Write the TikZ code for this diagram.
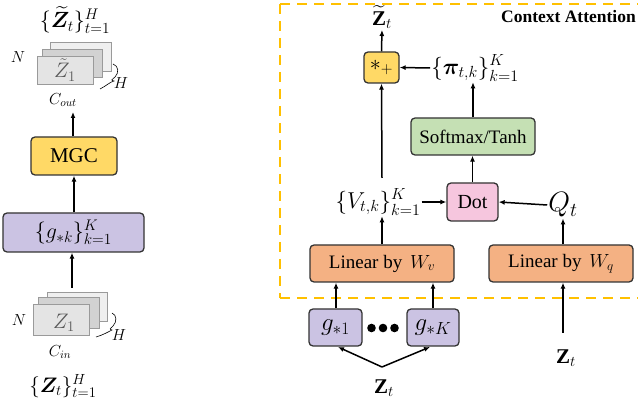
\RequirePackage{fix-cm}
\documentclass[tikz,border=0pt]{standalone}
\usepackage{amsmath,bm}
\usepackage{fontspec}
\setmainfont{Liberation Serif}
\usetikzlibrary{arrows.meta}
\definecolor{cyel}{HTML}{FFD966}
\definecolor{cpur}{HTML}{CBC3E3}
\definecolor{cgrn}{HTML}{C5E0B4}
\definecolor{corg}{HTML}{F4B183}
\definecolor{cpnk}{HTML}{F6C6DE}
\definecolor{cdash}{HTML}{FFC000}
\definecolor{cbord}{HTML}{333333}
\definecolor{sback}{HTML}{EFEFEF}
\definecolor{smid}{HTML}{D2D2D2}
\definecolor{sfront}{HTML}{E4E4E4}
\definecolor{sline}{HTML}{9A9A9A}
\tikzset{
  box/.style={draw=cbord, line width=1.3pt, rounded corners=4pt, inner sep=0pt, font=\fontsize{19}{22}\selectfont},
  arr/.style={-{Latex[length=6pt,width=5pt]}, line width=1.5pt},
  lbl/.style={inner sep=1pt, font=\fontsize{21}{24}\selectfont},
  biglbl/.style={inner sep=1pt, font=\fontsize{23}{26}\selectfont},
  small/.style={inner sep=1pt, font=\fontsize{16}{18}\selectfont},
  sheet/.style={draw=sline, line width=0.8pt},
}
\begin{document}
\begin{tikzpicture}[x=1pt,y=-1pt]
\useasboundingbox (0,0) rectangle (638,403);
% ---------- left panel ----------
\node[inner sep=1pt, font=\fontsize{22}{25}\selectfont] (ztop) at (75,20) {$\{\widetilde{\bm{Z}}_t\}_{t=1}^{H}$};
\draw[sheet, fill=sback] (50,42) rectangle (111,71);
\draw[sheet, fill=smid] (42,49) rectangle (102,77);
\draw[sheet, fill=sfront] (37,56) rectangle (93,84);
\node[lbl, text=black!65] (zt1) at (65,70) {$\tilde{Z}_1$};
\node[small] (ntop) at (18,57) {$N$};
\node[small] (htop) at (121,83) {$H$};
\node[small] (cout) at (63,100) {$C_{out}$};
\draw[line width=0.6pt] (113,64) .. controls (119,66) and (119,73) .. (115,77)
  .. controls (112,80) and (110,80) .. (114,81)
  .. controls (110,82) and (106,86) .. (100,89);
\coordinate (stopout) at (73,112);
\node[box, fill=cyel, minimum width=86pt, minimum height=38pt, font=\fontsize{21}{24}\selectfont] (mgc) at (74,156) {MGC};
\node[box, fill=cpur, minimum width=141pt, minimum height=39pt, font=\fontsize{22}{25}\selectfont] (gset) at (73.5,232.5) {$\{g_{*k}\}_{k=1}^{K}$};
\draw[arr] (mgc.north -| stopout) -- (stopout);
\draw[arr] (gset.north -| mgc.south) -- (mgc.south);
\draw[sheet, fill=sback] (47,292) rectangle (107,321);
\draw[sheet, fill=smid] (38,297) rectangle (99,328);
\draw[sheet, fill=sfront] (33,304) rectangle (89,335);
\coordinate (sbot) at (72,288);
\node[lbl, text=black!65] (z1) at (64,323) {$Z_1$};
\node[small] (nbot) at (19,320) {$N$};
\node[small] (hbot) at (119,335) {$H$};
\node[small] (cin) at (60,352) {$C_{in}$};
\draw[line width=0.6pt] (112,313) .. controls (117,315) and (117,322) .. (113,326)
  .. controls (110,329) and (109,329) .. (112,330)
  .. controls (108,332) and (103,335) .. (96,337);
\node[lbl] (zbot) at (63,386) {$\{\bm{Z}_t\}_{t=1}^{H}$};
\draw[arr] (sbot) -- (sbot |- gset.south);
% ---------- right panel ----------
\node[inner sep=0pt, anchor=east, font=\fontsize{17.5}{20}\selectfont\bfseries] (ca) at (636,17) {Context Attention};
\node[lbl] (zout) at (382,17) {$\widetilde{\mathbf{Z}}_t$};
\node[box, fill=cyel, minimum width=35pt, minimum height=31pt, font=\fontsize{22}{24}\selectfont] (plus) at (381.5,67.5) {$*_{+}$};
\node[biglbl] (pi) at (475,68) {$\{\bm{\pi}_{t,k}\}_{k=1}^{K}$};
\node[box, fill=cgrn, minimum width=124pt, minimum height=37pt] (soft) at (473,136.5) {Softmax/Tanh};
\node[box, fill=cpnk, minimum width=51pt, minimum height=38pt, font=\fontsize{20}{23}\selectfont] (dot) at (472.5,202) {Dot};
\node[biglbl] (v) at (378,202) {$\{V_{t,k}\}_{k=1}^{K}$};
\node[inner sep=1pt, font=\fontsize{28}{31}\selectfont] (q) at (563,205) {$Q_t$};
\node[box, fill=corg, minimum width=144pt, minimum height=37pt] (wv) at (382,263.5) {Linear by\, $W_v$};
\node[box, fill=corg, minimum width=144pt, minimum height=37pt] (wq) at (561,263.5) {Linear by\, $W_q$};
\node[box, fill=cpur, minimum width=53pt, minimum height=37pt, font=\fontsize{25}{27}\selectfont] (g1) at (335.5,327.5) {$g_{*1}$};
\node[box, fill=cpur, minimum width=52pt, minimum height=37pt, font=\fontsize{25}{27}\selectfont] (gk) at (433,327.5) {$g_{*K}$};
\node[inner sep=0pt] (dots) at (383,328) {\tikz[x=1pt,y=1pt]{\fill (0,0) circle (4.3pt); \fill (11.5,0) circle (4.3pt); \fill (23,0) circle (4.3pt);}};
\node[lbl] (zt) at (384,388) {$\mathbf{Z}_t$};
\coordinate (zj) at (382,367);
\node[lbl] (zq) at (566,358) {$\mathbf{Z}_t$};
\coordinate (zqs) at (563,333);
% dashed frame
\draw[cdash, line width=2.6pt, dash pattern=on 10pt off 7pt] (280,4) -- (645,4);
\draw[cdash, line width=2.6pt, dash pattern=on 10pt off 7pt] (280,4) -- (280,298);
\draw[cdash, line width=2.6pt, dash pattern=on 10pt off 7pt] (280,298) -- (645,298);
% connectors
\draw[arr] (plus.north) -- (zout.south |- 0,30);
\draw[arr] (pi.west) -- (plus.east);
\draw[arr] (soft.north -| 473,0) -- (pi.south -| 473,0);
\draw[arr] (dot.north) -- (soft.south -| dot.north);
\draw[arr] (382,178) -- (plus.south);
\draw[arr] (v.east) -- (dot.west);
\draw[arr] (q.west) -- (dot.east);
\draw[arr] (wv.north) -- (v.south -| wv.north);
\draw[arr] (wq.north -| zqs) -- (q.south -| zqs);
\draw[arr] (g1.north -| 336,0) -- (wv.south -| 336,0);
\draw[arr] (gk.north) -- (wv.south -| gk.north);
\draw[arr] (zj) -- (338,347);
\draw[arr] (zj) -- (430,347);
\draw[arr] (zqs) -- (wq.south -| zqs);
\end{tikzpicture}
\end{document}
